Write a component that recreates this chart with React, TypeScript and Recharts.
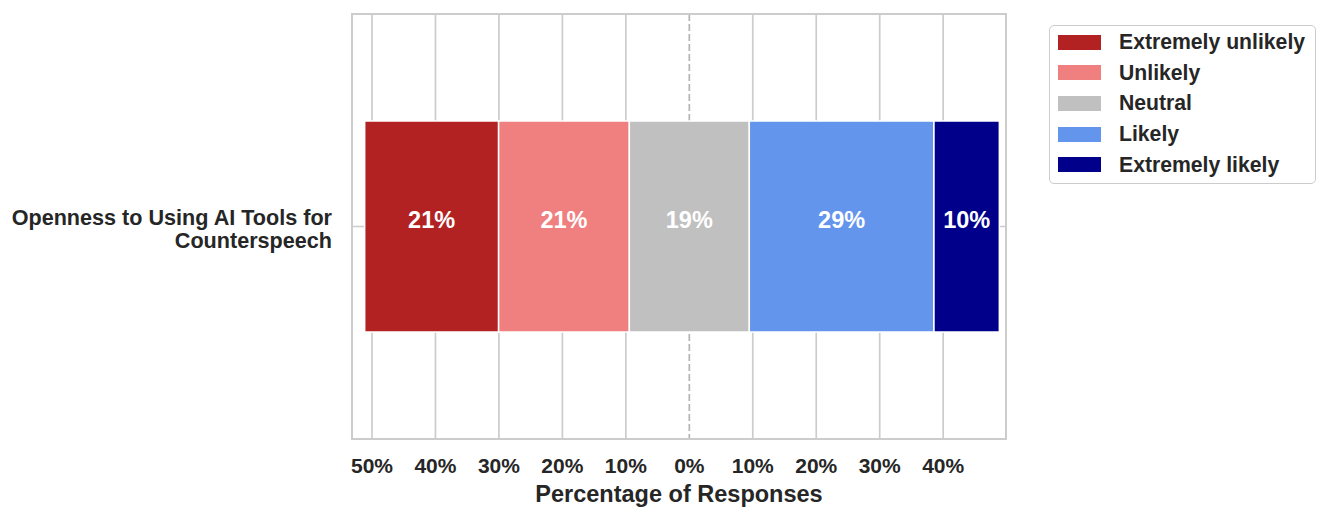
import React from "react";
import {
  BarChart,
  Bar,
  XAxis,
  YAxis,
  CartesianGrid,
  ReferenceArea,
  LabelList,
  Label,
  Legend,
} from "recharts";

const FONT = '"Liberation Sans", Arial, Helvetica, sans-serif';
const TEXT = "#262626";
const GRID = "#cccccc";

// data
const questionLines = ["Openness to Using AI Tools for", "Counterspeech"];
const responseLevels = [
  "Extremely unlikely",
  "Unlikely",
  "Neutral",
  "Likely",
  "Extremely likely",
];
const levelKeys = ["extremelyUnlikely", "unlikely", "neutral", "likely", "extremelyLikely"];
const responseShares = [21.1, 20.6, 18.9, 29.1, 10.3];
const levelColors = ["#b22222", "#f08080", "#c0c0c0", "#6495ed", "#00008b"];
const xTicks = [-50, -40, -30, -20, -10, 0, 10, 20, 30, 40];
const xDomain = [-53.15, 49.9];

// leading invisible segment so the neutral block sits centred on 0
const leadOffset = -(responseShares[0] + responseShares[1] + responseShares[2] / 2);

const rows = [
  {
    question: questionLines.join(" "),
    lead: leadOffset,
    ...Object.fromEntries(levelKeys.map((k, i) => [k, responseShares[i]])),
  },
];

function QuestionTick({ x, y }: any) {
  return (
    <text
      x={x}
      y={y}
      textAnchor="end"
      fill={TEXT}
      fontFamily={FONT}
      fontWeight={700}
      fontSize={21.6}
    >
      {questionLines.map((line, i) => (
        <tspan key={line} x={x} dy={i === 0 ? -1.5 : 23}>
          {line}
        </tspan>
      ))}
    </text>
  );
}

function renderShareLabel(props: any) {
  const vb = props.viewBox ?? props;
  const cx = vb.x + vb.width / 2;
  const cy = vb.y + vb.height / 2 - 7;
  return (
    <text
      x={cx}
      y={cy}
      textAnchor="middle"
      dominantBaseline="central"
      fill="#ffffff"
      fontFamily={FONT}
      fontWeight={700}
      fontSize={23.5}
    >
      {`${Math.round(props.value)}%`}
    </text>
  );
}

function LegendBox() {
  return (
    <div
      style={{
        boxSizing: "border-box",
        width: 267,
        height: 159,
        border: `1.5px solid ${GRID}`,
        borderRadius: 5,
        background: "#fff",
        padding: "1px 0 0 8px",
        fontFamily: FONT,
        fontWeight: 700,
        fontSize: 21.2,
        color: TEXT,
        whiteSpace: "nowrap",
      }}
    >
      {responseLevels.map((level, i) => (
        <div key={level} style={{ display: "flex", alignItems: "center", height: 30.6 }}>
          <span
            style={{
              display: "inline-block",
              width: 43,
              height: 15,
              background: levelColors[i],
              marginRight: 18,
            }}
          />
          {level}
        </div>
      ))}
    </div>
  );
}

export default function App() {
  return (
    <div style={{ position: "absolute", left: 0, top: 0, background: "#fff" }}>
      <BarChart
        width={1330}
        height={521}
        data={rows}
        layout="vertical"
        margin={{ top: 14, right: 324, bottom: 0, left: 0 }}
        barSize={211}
      >
        <CartesianGrid
          stroke={GRID}
          strokeWidth={1.7}
          verticalValues={xTicks.filter((t) => t !== 0)}
        />
        <CartesianGrid
          stroke="#b5b5b5"
          strokeWidth={1.7}
          strokeDasharray="7 3"
          horizontal={false}
          verticalValues={[0]}
        />
        <XAxis
          type="number"
          domain={xDomain}
          allowDataOverflow
          ticks={xTicks}
          interval={0}
          tickFormatter={(v: number) => `${Math.abs(v)}%`}
          axisLine={false}
          tickLine={false}
          tickSize={0}
          tickMargin={19}
          height={82}
          tick={{ fill: TEXT, fontSize: 21, fontWeight: 700, fontFamily: FONT }}
        >
          <Label
            value="Percentage of Responses"
            position="insideBottom"
            offset={19}
            fill={TEXT}
            fontSize={23.5}
            fontWeight={700}
            fontFamily={FONT}
          />
        </XAxis>
        <YAxis
          type="category"
          dataKey="question"
          width={352}
          axisLine={false}
          tickLine={false}
          tickSize={0}
          tickMargin={20}
          tick={<QuestionTick />}
        />
        <Bar
          dataKey="lead"
          stackId="likert"
          fill="transparent"
          legendType="none"
          isAnimationActive={false}
        />
        {levelKeys.map((key, i) => (
          <Bar
            key={key}
            dataKey={key}
            name={responseLevels[i]}
            stackId="likert"
            fill={levelColors[i]}
            stroke="#ffffff"
            strokeWidth={1.5}
            isAnimationActive={false}
          >
            <LabelList dataKey={key} content={renderShareLabel} />
          </Bar>
        ))}
        <ReferenceArea
          x1={xDomain[0]}
          x2={xDomain[1]}
          fill="none"
          stroke={GRID}
          strokeWidth={2}
          ifOverflow="visible"
        />
        <Legend
          layout="horizontal"
          verticalAlign="middle"
          align="center"
          width={267}
          height={159}
          wrapperStyle={{ left: 1049, top: 25 }}
          content={() => <LegendBox />}
        />
      </BarChart>
    </div>
  );
}
